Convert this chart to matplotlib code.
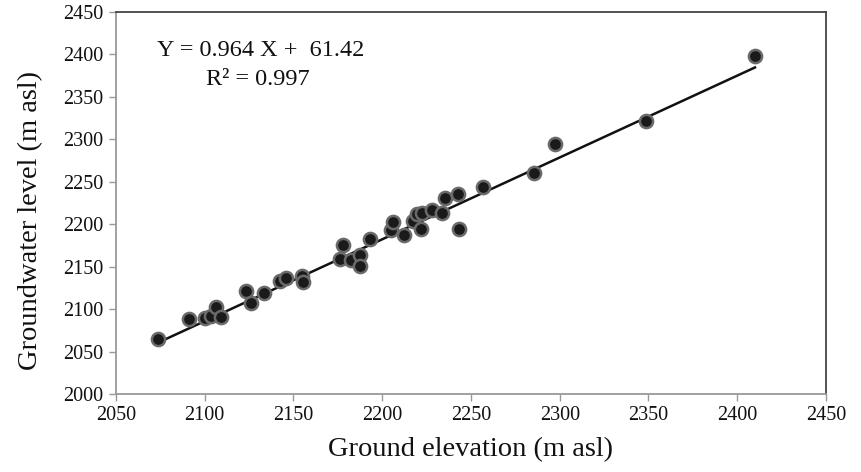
import matplotlib
matplotlib.use("Agg")
import matplotlib.pyplot as plt
import numpy as np

plt.rcParams.update({
    "font.family": ["Liberation Serif", "DejaVu Serif"],
    "mathtext.fontset": "stix",
})

# Ground elevation (m asl) vs groundwater level (m asl)
ground_elev = [
    2073.8, 2091.0, 2100.4, 2103.3, 2106.2, 2109.2, 2123.1, 2125.9, 2133.4,
    2142.2, 2146.0, 2155.0, 2155.3, 2176.0, 2177.9, 2182.6, 2187.2, 2187.2,
    2192.9, 2205.1, 2206.0, 2212.0, 2217.2, 2219.8, 2222.0, 2222.5, 2227.9,
    2233.7, 2235.4, 2242.9, 2243.5, 2256.8, 2285.7, 2297.5, 2348.5, 2410.0,
]
gw_level = [
    2064.5, 2088.0, 2089.4, 2091.8, 2102.8, 2091.0, 2121.9, 2107.5, 2118.4,
    2133.6, 2136.8, 2138.6, 2131.6, 2159.0, 2175.8, 2157.4, 2163.7, 2150.4,
    2182.5, 2193.4, 2202.4, 2187.5, 2204.3, 2211.5, 2194.5, 2213.0, 2216.8,
    2213.6, 2230.5, 2235.2, 2194.2, 2244.0, 2260.5, 2295.0, 2321.0, 2398.0,
]

slope = 0.964
intercept = 61.42
r2 = 0.997

x_ticks = list(range(2050, 2451, 50))
y_ticks = list(range(2000, 2451, 50))

fig = plt.figure(figsize=(8.61, 4.72), dpi=100)
ax = fig.add_axes([0.1347, 0.1653, 0.8246, 0.8093])

x_fit = np.array([min(ground_elev), max(ground_elev)])
ax.plot(x_fit, slope * x_fit + intercept, color="#111111", lw=1.8, zorder=2)
ax.plot(ground_elev, gw_level, "o", ms=9.5, mfc="#1a1a1a", mec="#6a6a6a", mew=1.8,
        zorder=3)

ax.set_xlim(2050, 2450)
ax.set_ylim(2000, 2450)
ax.set_xticks(x_ticks)
ax.set_yticks(y_ticks)
ax.tick_params(axis="both", direction="out", length=5, width=1, color="#999999",
               labelsize=14.5, labelcolor="#111111", pad=4)

for side in ("left", "bottom"):
    ax.spines[side].set_color("#999999")
    ax.spines[side].set_linewidth(1.3)
for side in ("top", "right"):
    ax.spines[side].set_color("#444444")
    ax.spines[side].set_linewidth(1.3)

ax.set_xlabel("Ground elevation (m asl)", fontsize=20.5, color="#111111")
ax.set_ylabel("Groundwater level (m asl)", fontsize=20.5, color="#111111")
ax.xaxis.set_label_coords(0.5, -0.112)
ax.yaxis.set_label_coords(-0.103, 0.455)

ax.text(0.204, 0.900, f"Y = {slope} X +  {intercept}", transform=ax.transAxes,
        ha="center", va="center", fontsize=17.5, color="#111111")
ax.text(0.200, 0.822, f"R² = {r2}", transform=ax.transAxes,
        ha="center", va="center", fontsize=17.5, color="#111111")

fig.savefig("out.png", dpi=100)
